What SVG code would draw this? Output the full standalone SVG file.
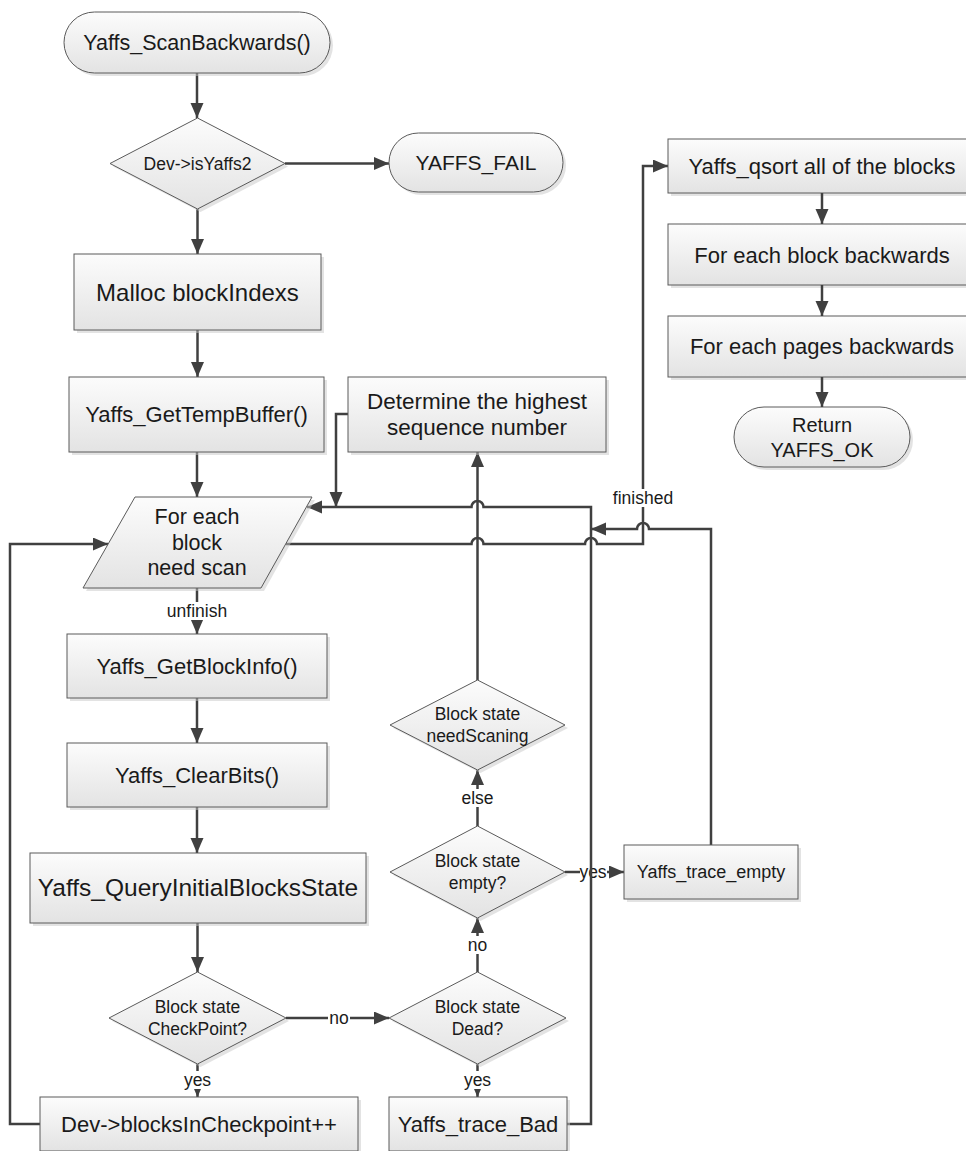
<svg xmlns="http://www.w3.org/2000/svg" width="966" height="1151" viewBox="0 0 966 1151">
<style>
.n{fill:url(#g);stroke:#5a5a5a;stroke-width:1}
.sh{fill:#c8c8c8;opacity:.5}
.c{fill:none;stroke:#404040;stroke-width:2.5}
.a{marker-end:url(#ah)}
.lb{fill:#fff}
text{font-family:"Liberation Sans",Arial,sans-serif;fill:#1a1a1a;text-anchor:middle;dominant-baseline:central}
.t22{font-size:22px}
.t17{font-size:17.5px}
</style>
<defs>
<linearGradient id="g" x1="0" y1="0" x2="0" y2="1">
<stop offset="0" stop-color="#fcfcfc"/>
<stop offset="1" stop-color="#e3e3e3"/>
</linearGradient>
<marker id="ah" markerWidth="16" markerHeight="14" refX="15" refY="6.5" orient="auto" markerUnits="userSpaceOnUse">
<path d="M0,0 L15,6.5 L0,13 z" fill="#404040"/>
</marker>
</defs>
<rect width="966" height="1151" fill="#fff"/>

<g id="connectors">
<path class="c a" d="M197,73 V118"/>
<path class="c a" d="M285,163.5 H389"/>
<path class="c a" d="M197.5,209 V254"/>
<path class="c a" d="M197.5,330 V377"/>
<path class="c a" d="M197,452 V497"/>
<path class="c a" d="M197,588 V634"/>
<rect class="lb" x="165" y="602" width="64" height="18"/>
<text class="t17" x="197" y="611">unfinish</text>
<path class="c a" d="M197,698 V743"/>
<path class="c a" d="M197,807 V853"/>
<path class="c a" d="M197.5,923 V972"/>
<path class="c a" d="M286,1018 H389"/>
<rect class="lb" x="328" y="1009" width="22" height="18"/>
<text class="t17" x="339" y="1018">no</text>
<path class="c a" d="M197.5,1064 V1097"/>
<rect class="lb" x="183" y="1071" width="29" height="18"/>
<text class="t17" x="197.5" y="1080">yes</text>
<path class="c a" d="M40,1124 H10 V544 H108"/>
<path class="c a" d="M477.5,1064 V1097"/>
<rect class="lb" x="463" y="1071" width="29" height="18"/>
<text class="t17" x="477.5" y="1080">yes</text>
<path class="c a" d="M477.5,972 V918"/>
<rect class="lb" x="466" y="936" width="23" height="18"/>
<text class="t17" x="477.5" y="945">no</text>
<path class="c a" d="M565,872 H624"/>
<rect class="lb" x="580" y="863" width="27" height="18"/>
<text class="t17" x="593" y="872">yes</text>
<path class="c a" d="M477.5,826 V770"/>
<rect class="lb" x="462" y="789" width="31" height="18"/>
<text class="t17" x="477.5" y="798">else</text>
<path class="c a" d="M477.5,680 V452"/>
<path class="c a" d="M348,414 H336 V507"/>
<path class="c a" d="M567,1124 H591 V507 H483.5 A6,6 0 0 0 471.5,507 H307"/>
<path class="c a" d="M711,845 V529 H649 A6,6 0 0 0 637,529 H591"/>
<path class="c a" d="M286,544 H471.5 A6,6 0 0 1 483.5,544 H585 A6,6 0 0 1 597,544 H643 V166 H668"/>
<rect class="lb" x="610" y="489" width="66" height="18"/>
<text class="t17" x="643" y="498">finished</text>
</g>

<g id="n-start">
<rect class="sh" x="67" y="15" width="266" height="61" rx="30.5"/>
<rect class="n" x="64" y="12" width="266" height="61" rx="30.5"/>
<text x="197" y="42.5" style="font-size:21.5px">Yaffs_ScanBackwards()</text>
</g>
<g id="n-isyaffs2">
<polygon class="sh" points="200.5,121 288,166.5 200.5,212 113,166.5"/>
<polygon class="n" points="197.5,118 285,163.5 197.5,209 110,163.5"/>
<text class="t17" x="197.5" y="163.5">Dev-&gt;isYaffs2</text>
</g>
<g id="n-fail">
<rect class="sh" x="392" y="136" width="174" height="59" rx="29.5"/>
<rect class="n" x="389" y="133" width="174" height="59" rx="29.5"/>
<text x="476" y="162.5" style="font-size:21px">YAFFS_FAIL</text>
</g>
<g id="n-malloc">
<rect class="sh" x="77" y="257" width="247" height="76"/>
<rect class="n" x="74" y="254" width="247" height="76"/>
<text x="197.5" y="292" style="font-size:24px">Malloc blockIndexs</text>
</g>
<g id="n-tempbuf">
<rect class="sh" x="72" y="380" width="255" height="75"/>
<rect class="n" x="69" y="377" width="255" height="75"/>
<text class="t22" x="196.5" y="414.5">Yaffs_GetTempBuffer()</text>
</g>
<g id="n-determine">
<rect class="sh" x="351" y="380" width="258" height="75"/>
<rect class="n" x="348" y="377" width="258" height="75"/>
<text x="477" y="401" style="font-size:22.5px">Determine the highest</text>
<text x="477" y="427" style="font-size:22.5px">sequence number</text>
</g>
<g id="n-foreach">
<polygon class="sh" points="138,500 315,500 264,591 86,591"/>
<polygon class="n" points="135,497 312,497 261,588 83,588"/>
<text x="197" y="517" style="font-size:21.5px">For each</text>
<text x="197" y="543" style="font-size:21.5px">block</text>
<text x="197" y="568" style="font-size:21.5px">need scan</text>
</g>
<g id="n-getblockinfo">
<rect class="sh" x="70" y="637" width="260" height="64"/>
<rect class="n" x="67" y="634" width="260" height="64"/>
<text class="t22" x="197" y="666">Yaffs_GetBlockInfo()</text>
</g>
<g id="n-clearbits">
<rect class="sh" x="70" y="746" width="260" height="64"/>
<rect class="n" x="67" y="743" width="260" height="64"/>
<text class="t22" x="197" y="775">Yaffs_ClearBits()</text>
</g>
<g id="n-query">
<rect class="sh" x="33" y="856" width="336" height="70"/>
<rect class="n" x="30" y="853" width="336" height="70"/>
<text x="198" y="887" style="font-size:24.5px">Yaffs_QueryInitialBlocksState</text>
</g>
<g id="n-checkpoint">
<polygon class="sh" points="200.5,975 289,1021 200.5,1067 112,1021"/>
<polygon class="n" points="197.5,972 286,1018 197.5,1064 109,1018"/>
<text class="t17" x="197.5" y="1007">Block state</text>
<text class="t17" x="197.5" y="1029">CheckPoint?</text>
</g>
<g id="n-devblocks">
<rect class="sh" x="43" y="1100" width="318" height="54"/>
<rect class="n" x="40" y="1097" width="318" height="54"/>
<text class="t22" x="199" y="1124">Dev-&gt;blocksInCheckpoint++</text>
</g>
<g id="n-dead">
<polygon class="sh" points="480.5,975 569,1021 480.5,1067 392,1021"/>
<polygon class="n" points="477.5,972 566,1018 477.5,1064 389,1018"/>
<text class="t17" x="477.5" y="1007">Block state</text>
<text class="t17" x="477.5" y="1029">Dead?</text>
</g>
<g id="n-tracebad">
<rect class="sh" x="392" y="1100" width="178" height="54"/>
<rect class="n" x="389" y="1097" width="178" height="54"/>
<text class="t22" x="478" y="1124">Yaffs_trace_Bad</text>
</g>
<g id="n-empty">
<polygon class="sh" points="480.5,829 568,875 480.5,921 393,875"/>
<polygon class="n" points="477.5,826 565,872 477.5,918 390,872"/>
<text class="t17" x="477.5" y="861">Block state</text>
<text class="t17" x="477.5" y="883">empty?</text>
</g>
<g id="n-traceempty">
<rect class="sh" x="627" y="848" width="174" height="54"/>
<rect class="n" x="624" y="845" width="174" height="54"/>
<text x="711" y="872" style="font-size:18px">Yaffs_trace_empty</text>
</g>
<g id="n-needscan">
<polygon class="sh" points="480.5,683 568,728 480.5,773 393,728"/>
<polygon class="n" points="477.5,680 565,725 477.5,770 390,725"/>
<text class="t17" x="477.5" y="714">Block state</text>
<text class="t17" x="477.5" y="736">needScaning</text>
</g>
<g id="n-qsort">
<rect class="sh" x="671" y="142" width="306" height="54"/>
<rect class="n" x="668" y="139" width="306" height="54"/>
<text class="t22" x="822" y="166">Yaffs_qsort all of the blocks</text>
</g>
<g id="n-blockback">
<rect class="sh" x="671" y="227" width="306" height="61"/>
<rect class="n" x="668" y="224" width="306" height="61"/>
<text class="t22" x="822" y="255">For each block backwards</text>
</g>
<g id="n-pageback">
<rect class="sh" x="671" y="319" width="306" height="61"/>
<rect class="n" x="668" y="316" width="306" height="61"/>
<text class="t22" x="822" y="346">For each pages backwards</text>
</g>
<g id="n-return">
<rect class="sh" x="737" y="410" width="176" height="60" rx="30"/>
<rect class="n" x="734" y="407" width="176" height="60" rx="30"/>
<text x="822" y="425" style="font-size:20px">Return</text>
<text x="822" y="450" style="font-size:20px">YAFFS_OK</text>
</g>
<g id="connectors-right">
<path class="c a" d="M822,193 V224"/>
<path class="c a" d="M822,285 V316"/>
<path class="c a" d="M822,377 V407"/>
</g>
</svg>
